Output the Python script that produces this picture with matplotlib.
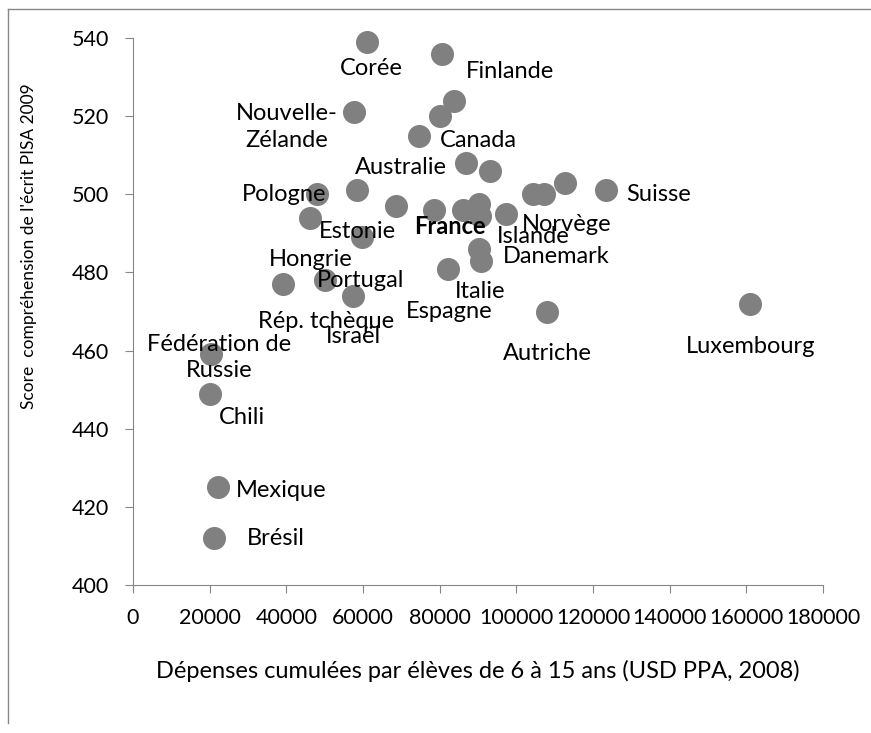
import matplotlib.pyplot as plt
from matplotlib.lines import Line2D

plt.rcParams['font.family'] = ['Lato', 'DejaVu Sans']

# cumulative spending per pupil 6-15 (USD PPP, 2008) and PISA 2009 reading score
countries = ["Corée", "Finlande", "Canada", "Nouvelle-\nZélande", "Japon", "Australie",
             "Pays-Bas", "Belgique", "Norvège", "Estonie", "Suisse", "Pologne",
             "Islande", "États-Unis", "Suède", "Allemagne", "Irlande", "France",
             "Danemark", "Royaume-Uni", "Hongrie", "Portugal", "Italie", "Slovénie",
             "Espagne", "Rép. tchèque", "Slovaquie", "Israël", "Luxembourg",
             "Autriche", "Fédération de\nRussie", "Chili", "Mexique", "Brésil"]
spending = [61000, 80600, 83700, 57600, 80100, 74500,
            86900, 93000, 112800, 58500, 123300, 48100,
            104300, 107100, 68500, 90200, 78500, 86000,
            97400, 90400, 46100, 59800, 90200, 90700,
            82100, 50000, 39100, 57400, 161000,
            108000, 20400, 20200, 22200, 21000]
score = [539, 536, 524, 521, 520, 515,
         508, 506, 503, 501, 501, 500,
         500, 500, 497, 497.5, 496, 496,
         495, 494.4, 494, 489, 486, 483,
         481, 478, 477, 474, 472,
         470, 459, 449, 425, 412]
# points drawn without a data label
unlabelled = {"Japon", "Pays-Bas", "Belgique", "États-Unis", "Suède", "Allemagne",
              "Irlande", "Royaume-Uni", "Slovénie", "Slovaquie"}

# label offsets (pixels, right / down) relative to the point
offsets = {"Corée": (4, 27), "Finlande": (68, 18), "Canada": (25, 40),
           "Nouvelle-\nZélande": (-67, 15), "Australie": (-18, 32),
           "Pologne": (-33, 0), "Estonie": (0, 41), "France": (-13, 17),
           "Islande": (0, 42), "Norvège": (1, 42), "Suisse": (53, 4),
           "Danemark": (50, 43), "Italie": (1, 43), "Espagne": (1, 43),
           "Autriche": (0, 42), "Luxembourg": (0, 43), "Hongrie": (1, 42),
           "Portugal": (-2, 43), "Rép. tchèque": (1, 41), "Israël": (0, 41),
           "Fédération de\nRussie": (8, 3), "Chili": (32, 24),
           "Mexique": (63, 3), "Brésil": (62, 0)}

fig = plt.figure(figsize=(8.71, 7.33), dpi=100)
ax = fig.add_axes([133 / 871, 148 / 733, 690 / 871, 547 / 733])

ax.scatter(spending, score, s=275, color='#808080', linewidths=0, zorder=2,
           clip_on=False)

for name, x, y in zip(countries, spending, score):
    if name in unlabelled:
        continue
    dx, dy = offsets[name]
    ax.annotate(name, (x, y), xytext=(dx, -dy), textcoords='offset pixels',
                ha='center', va='center', fontsize=17, linespacing=1.35,
                fontweight='bold' if name == "France" else 'normal', zorder=3)

ax.set_xlim(0, 180000)
ax.set_ylim(400, 540)
ax.set_xticks(range(0, 180001, 20000))
ax.set_yticks(range(400, 541, 20))

for side in ['top', 'right']:
    ax.spines[side].set_visible(False)
for side in ['left', 'bottom']:
    ax.spines[side].set_color('#868686')
ax.tick_params(axis='both', colors='#868686', labelcolor='black', length=5.5,
               direction='out', labelsize=15.5)
ax.tick_params(axis='x', pad=11)
ax.tick_params(axis='y', pad=12)

ax.set_xlabel("Dépenses cumulées par élèves de 6 à 15 ans (USD PPA, 2008)", fontsize=17)
ax.set_ylabel("Score  compréhension de l'écrit PISA 2009", fontsize=12.5)
ax.xaxis.set_label_coords(0.5, -0.137)
ax.yaxis.set_label_coords(-0.139, 0.62)

# chart frame cropped at right and bottom
fig.add_artist(Line2D([8 / 871, 8 / 871], [1 - 9 / 733, 1 - 723 / 733],
                      transform=fig.transFigure, color='#888888', lw=1))
fig.add_artist(Line2D([8 / 871, 1], [1 - 9 / 733, 1 - 9 / 733],
                      transform=fig.transFigure, color='#888888', lw=1))

fig.savefig('out.png', dpi=100)
